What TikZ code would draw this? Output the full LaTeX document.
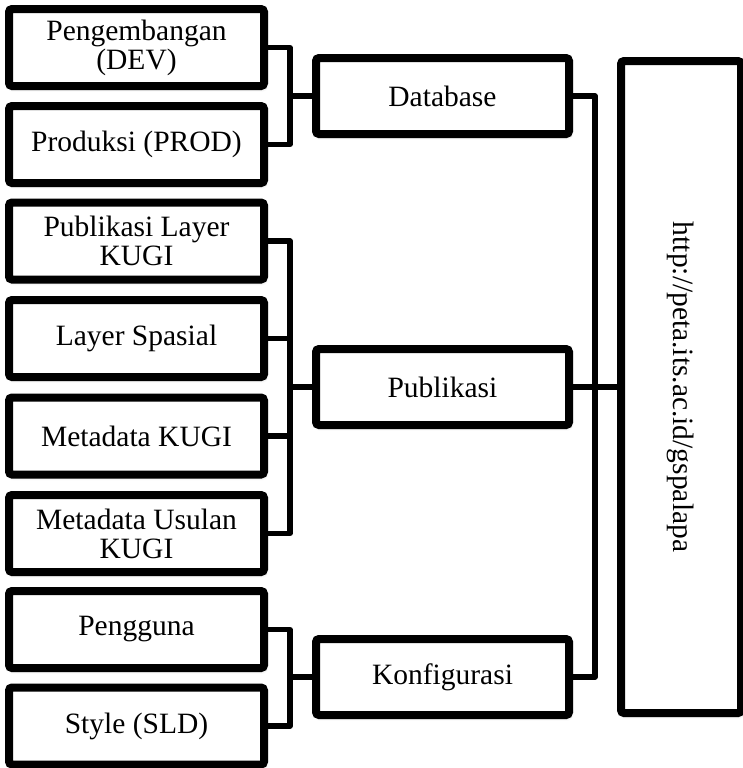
\documentclass[tikz,border=0pt]{standalone}
\usepackage{fontspec}
\setmainfont{Liberation Serif}
\usetikzlibrary{shadows.blur}

\begin{document}
\begin{tikzpicture}[x=0.5pt,y=-0.5pt,
            every node/.style={align=center,font=\fontsize{14.75}{14.6}\selectfont},
            box/.style={draw,line width=4pt,rounded corners=1.5pt,fill=white,inner sep=0pt,
                blur shadow={shadow xshift=0.6pt,shadow yshift=-1.2pt,shadow opacity=25,shadow blur steps=6}},
            item/.style={box,minimum width=127.5pt,minimum height=38.5pt},
            group/.style={box,minimum width=126.5pt,minimum height=38pt},
            site/.style={box,minimum width=60pt,minimum height=326pt},
            link/.style={line width=2.6pt,line join=round}]

            \useasboundingbox (0,0) rectangle (743,768);

            % left column
            \node[item] (dev)    at (136.5,47.5)  {Pengembangan\\(DEV)};
            \node[item] (prod)   at (136.5,144.5) {Produksi (PROD)};
            \node[item] (pkugi)  at (136.5,241)   {Publikasi Layer\\KUGI};
            \node[item] (layer)  at (136.5,338.5) {Layer Spasial};
            \node[item] (mkugi)  at (136.5,436)   {Metadata KUGI};
            \node[item] (mukugi) at (136.5,533.5) {Metadata Usulan\\KUGI};
            \node[item] (user)   at (136.5,629.5) {Pengguna};
            \node[item] (sld)    at (136.5,726)   {Style (SLD)};

            % middle column
            \node[group] (db)   at (442.5,96)  {Database};
            \node[group] (pub)  at (442.5,387) {Publikasi};
            \node[group] (konf) at (442.5,677) {Konfigurasi};

            % address
            \node[site] (url) at (681,387) {};
            \node[rotate=-90] (urltext) at (url.center) {http://peta.its.ac.id/gspalapa};

            \coordinate (jdb)   at (290,96);
            \coordinate (jpub)  at (290,387);
            \coordinate (jkonf) at (290,677);
            \coordinate (jurl)  at (595,387);

            \begin{scope}[on background layer/.try]
            \draw[link] (dev.east) -| (jdb) |- (prod.east);
            \draw[link] (jdb) -- (db.west);
            \draw[link] (pkugi.east) -| (jpub) |- (mukugi.east);
            \draw[link] (layer.east) -- (layer.east -| jpub);
            \draw[link] (mkugi.east) -- (mkugi.east -| jpub);
            \draw[link] (jpub) -- (pub.west);
            \draw[link] (user.east) -| (jkonf) |- (sld.east);
            \draw[link] (jkonf) -- (konf.west);
            \draw[link] (db.east) -| (jurl) |- (konf.east);
            \draw[link] (pub.east) -- (url.west);
            \end{scope}
        \end{tikzpicture}
\end{document}
